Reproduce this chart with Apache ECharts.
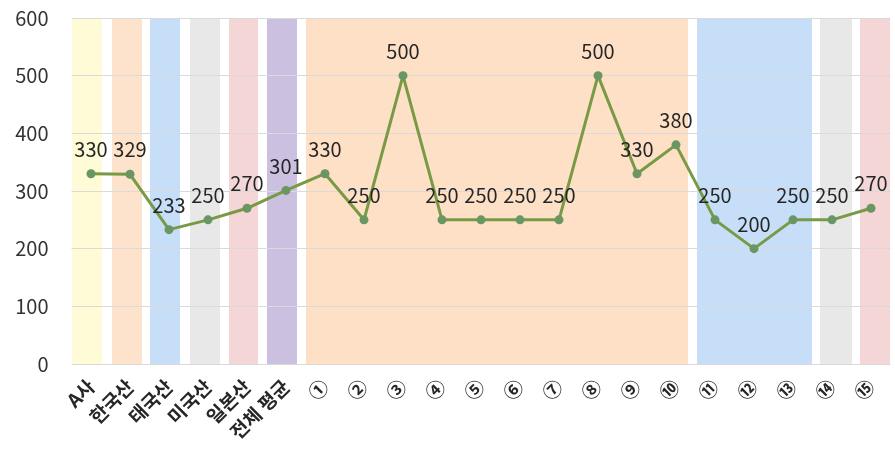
<!DOCTYPE html>
<html><head><meta charset="utf-8">
<script src="https://cdn.jsdelivr.net/npm/echarts@6/dist/echarts.min.js"></script>
<style>html,body{margin:0;padding:0;background:#fff}#c{width:895px;height:456px}</style>
</head><body><div id="c"></div>
<script>
// ---- data ----
var categories = ['A사','한국산','태국산','미국산','일본산','전체 평균','①','②','③','④','⑤','⑥','⑦','⑧','⑨','⑩','⑪','⑫','⑬','⑭','⑮'];
var values = [330,329,233,250,270,301,330,250,500,250,250,250,250,500,330,380,250,200,250,250,270];
var yTicks = [0,100,200,300,400,500,600];
// background groups: first and last category of each coloured band
var bandFrom = ['A사','한국산','태국산','미국산','일본산','전체 평균','①','⑪','⑭','⑮'];
var bandTo   = ['A사','한국산','태국산','미국산','일본산','전체 평균','⑩','⑬','⑭','⑮'];

// ---- styles ----
var bandColors = ['#FFFBD6','#FDE3CC','#C6DEF8','#E8E8E8','#F4D6D6','#CBC0E0','#FDE0C6','#C6DEF8','#E8E8E8','#F4D6D6'];
var bandInsetL = [0.5,1.5,0.5,1.5,1.5,0.5,0.5,1.5,7.5,8.5];
var bandInsetR = [8.5,7.5,8.5,7.5,8.5,8.5,7.5,0.5,-0.5,0.5];
var FONT = '"Noto Sans CJK KR","Noto Sans",sans-serif';

var bandData = bandFrom.map(function(f,i){
  return [categories.indexOf(f), categories.indexOf(bandTo[i]), i];
});

var chart = echarts.init(document.getElementById('c'));
chart.setOption({
  animation:false,
  grid:{left:71.5,right:4.5,top:18,bottom:92,containLabel:false},
  xAxis:{
    type:'category', data:categories, boundaryGap:true,
    axisLine:{show:false}, axisTick:{show:false},
    axisLabel:{rotate:45, interval:0, margin:19, fontSize:19, fontWeight:'bold', color:'#262626',
      fontFamily:FONT}
  },
  yAxis:{
    type:'value', min:yTicks[0], max:yTicks[yTicks.length-1], interval:100,
    axisLine:{show:false}, axisTick:{show:false},
    axisLabel:{fontSize:20, color:'#333', margin:23, fontFamily:FONT},
    splitLine:{show:true, lineStyle:{color:'#DADADA', width:1}}
  },
  series:[
    {
      type:'custom', z:-1, silent:true,
      encode:{x:[0,1]},
      data:bandData,
      renderItem:function(params, api){
        var s = api.value(0), e = api.value(1), k = api.value(2);
        var w = api.size([1,0])[0];
        var p0 = api.coord([s, 600]);
        var p1 = api.coord([e, 0]);
        var x0 = p0[0] - w/2 + bandInsetL[k];
        var x1 = p1[0] + w/2 - bandInsetR[k];
        return {type:'rect', shape:{x:x0, y:p0[1], width:x1-x0, height:p1[1]-p0[1]},
          style:{fill:bandColors[k]}};
      }
    },
    {
      type:'line', data:values, z:5,
      symbol:'circle', symbolSize:9,
      lineStyle:{color:'#789A44', width:3},
      itemStyle:{color:'#6A9664'},
      label:{show:true, position:'top', distance:10, fontSize:20, color:'#262626',
        fontFamily:FONT}
    }
  ]
});
</script></body></html>
